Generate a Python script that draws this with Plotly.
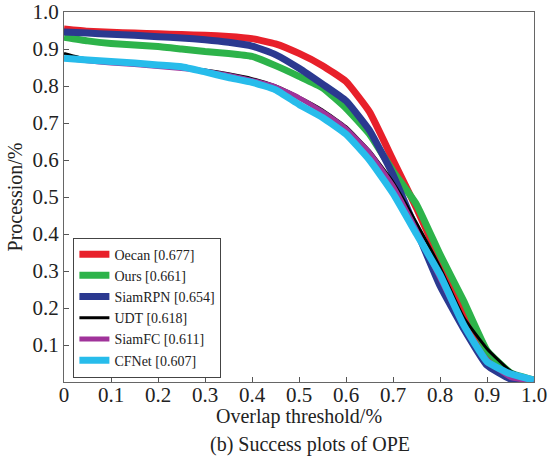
import plotly.graph_objects as go

thresholds = [0.0, 0.05, 0.1, 0.15, 0.2, 0.25, 0.3, 0.35, 0.4, 0.45, 0.5,
              0.55, 0.6, 0.65, 0.7, 0.75, 0.8, 0.85, 0.9, 0.95, 1.0]

oecan = [0.954, 0.948, 0.945, 0.943, 0.941, 0.939, 0.937, 0.934, 0.928, 0.914, 0.888,
         0.855, 0.812, 0.73, 0.60, 0.47, 0.33, 0.19, 0.075, 0.02, 0.005]
ours = [0.932, 0.922, 0.915, 0.911, 0.907, 0.900, 0.893, 0.888, 0.880, 0.855, 0.826,
        0.795, 0.74, 0.67, 0.57, 0.48, 0.345, 0.22, 0.085, 0.025, 0.005]
siamrpn = [0.946, 0.943, 0.940, 0.937, 0.933, 0.930, 0.925, 0.918, 0.908, 0.885, 0.848,
           0.805, 0.76, 0.68, 0.56, 0.41, 0.26, 0.145, 0.045, 0.008, 0.002]
udt = [0.888, 0.872, 0.866, 0.862, 0.857, 0.850, 0.843, 0.833, 0.820, 0.800, 0.770,
       0.735, 0.69, 0.625, 0.54, 0.43, 0.31, 0.175, 0.09, 0.03, 0.005]
siamfc = [0.875, 0.868, 0.862, 0.858, 0.853, 0.847, 0.840, 0.829, 0.815, 0.798, 0.768,
          0.73, 0.685, 0.62, 0.53, 0.41, 0.28, 0.155, 0.06, 0.012, 0.002]
cfnet = [0.875, 0.870, 0.866, 0.862, 0.857, 0.852, 0.838, 0.823, 0.810, 0.790, 0.750,
         0.715, 0.67, 0.60, 0.51, 0.40, 0.29, 0.155, 0.055, 0.022, 0.005]

names = ["Oecan [0.677]", "Ours [0.661]", "SiamRPN [0.654]", "UDT [0.618]",
         "SiamFC [0.611]", "CFNet [0.607]"]
series = [oecan, ours, siamrpn, udt, siamfc, cfnet]
colors = ["#E8202A", "#2DB34A", "#2B3990", "#000000", "#A0339A", "#27BCEB"]
widths = [7, 7, 7, 3, 5, 7]

x_ticks = [0, 0.1, 0.2, 0.3, 0.4, 0.5, 0.6, 0.7, 0.8, 0.9, 1.0]
x_labels = ["0", "0.1", "0.2", "0.3", "0.4", "0.5", "0.6", "0.7", "0.8", "0.9", "1.0"]
y_ticks = [0.1, 0.2, 0.3, 0.4, 0.5, 0.6, 0.7, 0.8, 0.9, 1.0]
y_labels = ["0.1", "0.2", "0.3", "0.4", "0.5", "0.6", "0.7", "0.8", "0.9", "1.0"]

serif = "Liberation Serif, Times New Roman, serif"

fig = go.Figure()
for name, ys, c, w in zip(names, series, colors, widths):
    fig.add_trace(go.Scatter(x=thresholds, y=ys, mode="lines", name=name,
                             line=dict(color=c, width=w, shape="spline", smoothing=0.4)))

fig.update_layout(
    width=550, height=466,
    margin=dict(l=64, r=16, t=12, b=84, autoexpand=False),
    paper_bgcolor="white", plot_bgcolor="white",
    font=dict(family=serif, color="#222"),
    showlegend=True,
    legend=dict(x=0.02, y=0.012, xanchor="left", yanchor="bottom",
                bordercolor="#444", borderwidth=1, bgcolor="white",
                font=dict(family=serif, size=14, color="#222"),
                tracegroupgap=0, itemwidth=30),
    xaxis=dict(range=[0, 1], tickvals=x_ticks, ticktext=x_labels,
               ticks="inside", ticklen=5, tickcolor="#555", automargin=False,
               ticklabelstandoff=-6,
               showline=True, linecolor="#666", mirror=True, showgrid=False,
               zeroline=False, tickfont=dict(size=21, family=serif, color="#222")),
    yaxis=dict(range=[0, 1], tickvals=y_ticks, ticktext=y_labels,
               ticks="inside", ticklen=5, tickcolor="#555", automargin=False,
               showline=True, linecolor="#666", mirror=True, showgrid=False,
               zeroline=False, tickfont=dict(size=21, family=serif, color="#222"),
               title=dict(text="Procession/%", font=dict(size=20, family=serif, color="#222"),
                          standoff=4)),
    annotations=[
        dict(text="Overlap threshold/%", xref="paper", yref="paper", x=0.5, y=-0.092,
             xanchor="center", yanchor="middle", showarrow=False,
             font=dict(size=20, family=serif, color="#222")),
        dict(text="(b) Success plots of OPE", xref="paper", yref="paper", x=0.523, y=-0.17,
             xanchor="center", yanchor="middle", showarrow=False,
             font=dict(size=20, family=serif, color="#222")),
    ],
)

fig.write_html("out.html", config={"displayModeBar": False},
               post_script="document.body.style.margin='0';document.body.style.overflow='hidden';")
